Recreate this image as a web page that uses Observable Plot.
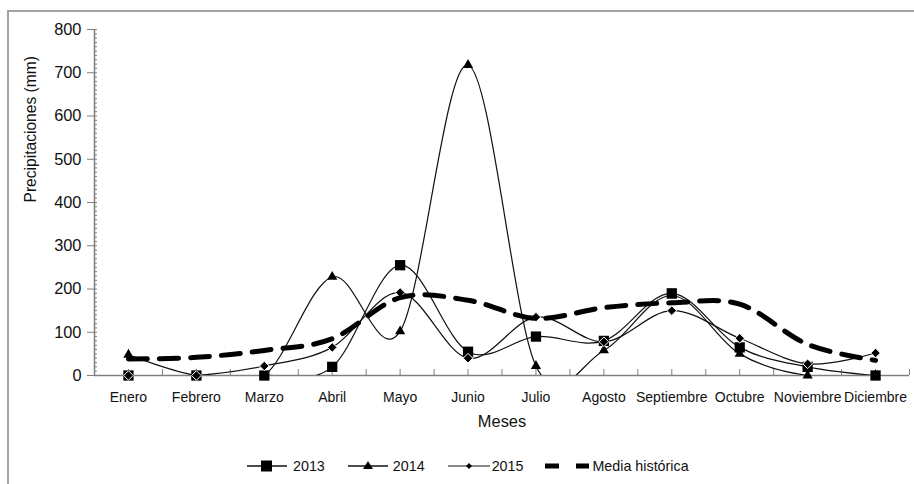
<!DOCTYPE html>
<html>
<head>
<meta charset="utf-8">
<script src="https://cdn.jsdelivr.net/npm/d3@7"></script>
<script src="https://cdn.jsdelivr.net/npm/@observablehq/plot@0.6"></script>
<style>
  html, body { margin: 0; padding: 0; background: white; }
  body { width: 914px; height: 484px; position: relative; overflow: hidden; font-family: "Liberation Sans", Arial, sans-serif; }
  #frame { position: absolute; left: 7px; top: 10px; width: 920px; height: 490px; border-left: 2px solid #a3a3a3; border-top: 2px solid #a3a3a3; box-sizing: border-box; pointer-events: none; }
  #chart { position: absolute; left: 0; top: 0; }
  #legend { position: absolute; left: 247px; top: 452px; height: 28px; display: flex; align-items: center; font-size: 14.3px; color: #111; }
  #legend .item { display: flex; align-items: center; }
  #legend svg { display: block; }
</style>
</head>
<body>
<div id="chart"></div>
<div id="frame"></div>
<div id="legend"></div>
<script>
const months = ["Enero", "Febrero", "Marzo", "Abril", "Mayo", "Junio", "Julio", "Agosto", "Septiembre", "Octubre", "Noviembre", "Diciembre"];
const y2013 = [0, 0, 0, 20, 255, 55, 90, 80, 190, 65, 20, 0];
const y2014 = [48, 0, 0, 228, 102, 718, 22, 58, 185, 50, 0, 0];
const y2015 = [0, 0, 22, 65, 192, 40, 135, 78, 150, 86, 27, 52];
const media = [38, 42, 58, 85, 180, 174, 132, 157, 168, 165, 72, 35];
const yTicks = [0, 100, 200, 300, 400, 500, 600, 700, 800];
const yMinorTicks = d3.range(0, 801, 10);
const xLabel = "Meses";
const yLabel = "Precipitaciones (mm)";
const seriesNames = ["2013", "2014", "2015", "Media histórica"];

const idx = months.map((m, i) => i);
const halfSteps = d3.range(-0.5, 11.51, 0.5);
const toData = arr => arr.map((v, i) => ({i, v}));
const d2013 = toData(y2013), d2014 = toData(y2014), d2015 = toData(y2015), dMedia = toData(media);

const axisGray = "#7f7f7f";

const chart = Plot.plot({
  width: 914,
  height: 450,
  marginLeft: 94,
  marginRight: 5,
  marginTop: 29,
  marginBottom: 75,
  x: {domain: [-0.5, 11.5]},
  y: {domain: [0, 800]},
  style: {fontFamily: "'Liberation Sans', Arial, sans-serif", color: "#111", background: "white", overflow: "visible"},
  marks: [
    Plot.axisY(yMinorTicks, {tickSize: -3, tickFormat: () => "", label: null, stroke: axisGray}),
    Plot.axisY(yTicks, {tickSize: 7, tickPadding: 6, fontSize: 16.4, label: null, stroke: axisGray, fill: "#111"}),
    Plot.axisX(halfSteps, {tickSize: -6, tickFormat: () => "", label: null, stroke: axisGray}),
    Plot.axisX(idx, {tickSize: 0, tickPadding: 17, fontSize: 14, tickFormat: i => months[i], label: null, fill: "#111"}),
    Plot.ruleY([0], {stroke: axisGray, strokeWidth: 1.5}),
    Plot.ruleX([-0.5], {stroke: axisGray, strokeWidth: 1.5}),
    Plot.text([xLabel], {frameAnchor: "bottom", dy: 51, fontSize: 16.4, fill: "#111"}),
    Plot.text([yLabel], {frameAnchor: "left", dx: -64, rotate: -90, fontSize: 15.6, fill: "#111"}),
    Plot.line(d2013, {x: "i", y: "v", curve: "cardinal", stroke: "#111", strokeWidth: 1.2, clip: true}),
    Plot.line(d2014, {x: "i", y: "v", curve: "cardinal", stroke: "#111", strokeWidth: 1.2, clip: true}),
    Plot.line(d2015, {x: "i", y: "v", curve: "cardinal", stroke: "#111", strokeWidth: 1.2, clip: true}),
    Plot.dot(d2013, {x: "i", y: "v", symbol: "square", r: 5.8, fill: "#000", stroke: "none"}),
    Plot.dot(d2014, {x: "i", y: "v", symbol: "triangle", r: 3.8, fill: "#000", stroke: "none"}),
    Plot.dot(d2015, {x: "i", y: "v", symbol: "diamond2", r: 4.3, fill: "#000", stroke: "white", strokeWidth: 1}),
    Plot.line(dMedia, {x: "i", y: "v", curve: "cardinal", stroke: "#000", strokeWidth: 5, strokeDasharray: "19,12", clip: true})
  ]
});
document.getElementById("chart").appendChild(chart);

// Legend
const legend = d3.select("#legend");
const swatches = [
  {name: seriesNames[0], w: 40, gap: 6, after: 23, draw: g => {
    g.append("line").attr("x1", 0).attr("x2", 40).attr("y1", 10).attr("y2", 10).attr("stroke", "#111").attr("stroke-width", 1.5);
    g.append("rect").attr("x", 14).attr("y", 4.5).attr("width", 11).attr("height", 11).attr("fill", "#000");
  }},
  {name: seriesNames[1], w: 40, gap: 5, after: 23, draw: g => {
    g.append("line").attr("x1", 0).attr("x2", 40).attr("y1", 10).attr("y2", 10).attr("stroke", "#111").attr("stroke-width", 1.5);
    g.append("path").attr("d", "M20,5 L25,13 L15,13 Z").attr("fill", "#000");
  }},
  {name: seriesNames[2], w: 42, gap: 2, after: 22, draw: g => {
    g.append("line").attr("x1", 0).attr("x2", 42).attr("y1", 10).attr("y2", 10).attr("stroke", "#111").attr("stroke-width", 1.2);
    g.append("path").attr("d", "M21,7 L24,10 L21,13 L18,10 Z").attr("fill", "#000");
  }},
  {name: seriesNames[3], w: 44, gap: 3, after: 0, draw: g => {
    g.append("line").attr("x1", 0).attr("x2", 44).attr("y1", 10).attr("y2", 10).attr("stroke", "#000").attr("stroke-width", 5).attr("stroke-dasharray", "14,17");
  }}
];
swatches.forEach(s => {
  const item = legend.append("div").attr("class", "item").style("margin-right", s.after + "px");
  const svg = item.append("svg").attr("width", s.w).attr("height", 20).style("margin-right", s.gap + "px");
  s.draw(svg);
  item.append("span").text(s.name);
});
</script>
</body>
</html>
